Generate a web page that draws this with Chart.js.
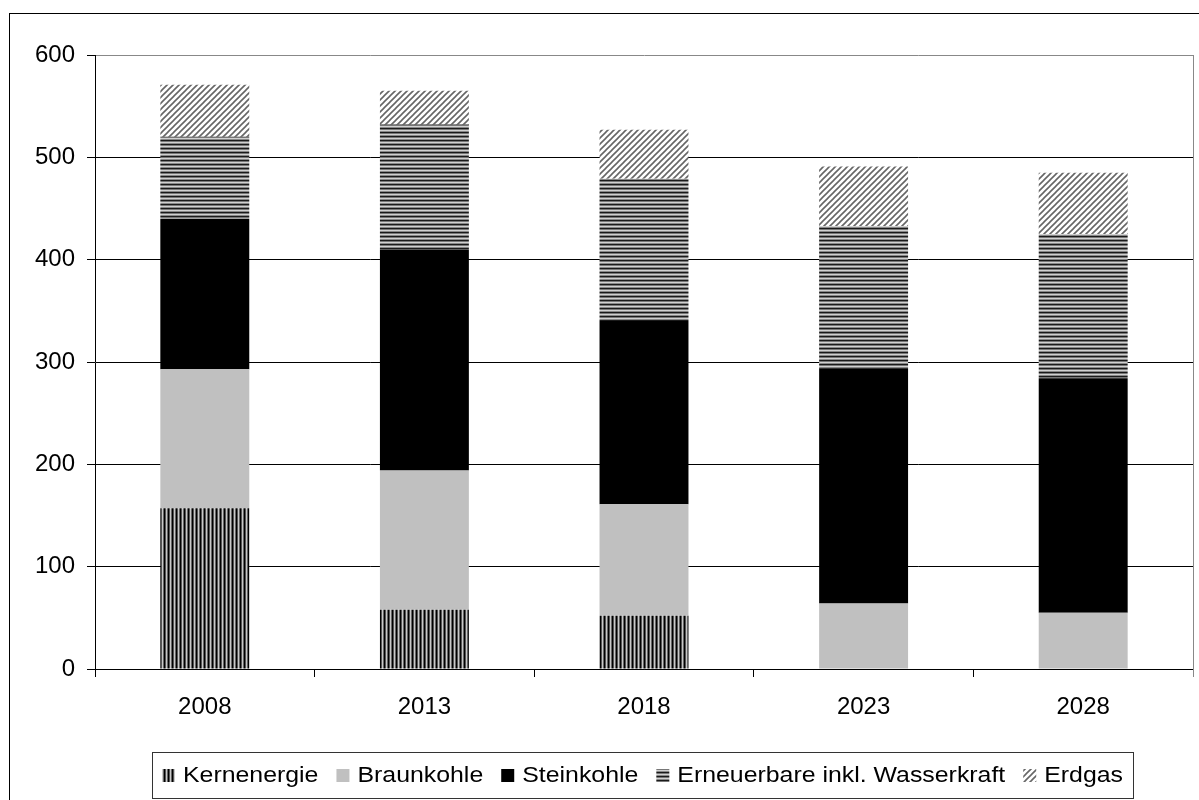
<!DOCTYPE html>
<html>
<head>
<meta charset="utf-8">
<script src="https://cdn.jsdelivr.net/npm/chart.js@4"></script>
<style>
  body { margin: 0; background: #fff; }
  #wrap { width: 1199px; height: 800px; }
</style>
</head>
<body>
<div id="wrap"><canvas id="chart" width="1199" height="800"></canvas></div>
<script>
const years = ['2008', '2013', '2018', '2023', '2028'];
const kernenergie = [157, 58, 52, 0, 0];
const braunkohle = [136, 136, 109, 64, 55];
const steinkohle = [147, 216, 179, 230, 229];
const erneuerbare = [80, 122, 139, 139, 141];
const erdgas = [51, 33, 48, 58, 60];
const seriesNames = ['Kernenergie', 'Braunkohle', 'Steinkohle', 'Erneuerbare inkl. Wasserkraft', 'Erdgas'];
const yTicks = [0, 100, 200, 300, 400, 500, 600];

const FONT = '"Liberation Sans", Arial, sans-serif';

// kleine Muster wie im Excel-Original
function makePattern(w, h, draw) {
    const c = document.createElement('canvas');
    c.width = w; c.height = h;
    const g = c.getContext('2d');
    g.fillStyle = '#fff';
    g.fillRect(0, 0, w, h);
    draw(g);
    return document.getElementById('chart').getContext('2d').createPattern(c, 'repeat');
}

const vertPattern = makePattern(4, 4, g => {
    const cols = ['#000', '#555', '#c8c8c8', '#666'];
    cols.forEach((col, i) => { g.fillStyle = col; g.fillRect(i, 0, 1, 4); });
});
const horizPattern = makePattern(4, 4, g => {
    const rows = ['#1a1a1a', '#777', '#d0d0d0', '#888'];
    rows.forEach((col, i) => { g.fillStyle = col; g.fillRect(0, i, 4, 1); });
});
const diagPattern = makePattern(6, 6, g => {
    g.strokeStyle = '#666';
    g.lineWidth = 1.6;
    g.beginPath();
    g.moveTo(-1, 7); g.lineTo(7, -1);
    g.moveTo(-1, 1); g.lineTo(1, -1);
    g.moveTo(5, 7); g.lineTo(7, 5);
    g.stroke();
});

const fills = [vertPattern, '#c0c0c0', '#000', horizPattern, diagPattern];
const values = [kernenergie, braunkohle, steinkohle, erneuerbare, erdgas];

const framePlugin = {
    id: 'frame',
    beforeDraw(chart) {
        const ctx = chart.ctx;
        ctx.save();
        ctx.strokeStyle = '#000';
        ctx.lineWidth = 1;
        ctx.strokeRect(9.5, 13.5, 1300, 900);
        ctx.restore();
    },
    afterDraw(chart) {
        const ctx = chart.ctx;
        const a = chart.chartArea;
        ctx.save();
        ctx.strokeStyle = '#888';
        ctx.lineWidth = 1;
        ctx.beginPath();
        ctx.moveTo(Math.round(a.right) + 0.5, a.top);
        ctx.lineTo(Math.round(a.right) + 0.5, a.bottom + 8);
        ctx.stroke();

        // Legende mit Rahmen (Text etwas breit gezogen wie im Original)
        const stretch = 1.13;
        ctx.font = '22px ' + FONT;
        ctx.textBaseline = 'middle';
        const box = { left: 152, top: 752, right: 1133, bottom: 798 };
        const sw = 15, gapText = 6;
        const widths = seriesNames.map(n => sw + gapText + ctx.measureText(n).width * stretch);
        const used = widths.reduce((s, w) => s + w, 0);
        const gap = (box.right - box.left - 20 - used) / (seriesNames.length - 1);
        ctx.fillStyle = '#fff';
        ctx.fillRect(box.left, box.top, box.right - box.left, box.bottom - box.top);
        ctx.strokeStyle = '#333';
        ctx.strokeRect(box.left + 0.5, box.top + 0.5, box.right - box.left, box.bottom - box.top);
        const cy = (box.top + box.bottom) / 2;
        let x = box.left + 10;
        seriesNames.forEach((n, i) => {
            ctx.fillStyle = fills[i];
            ctx.fillRect(x, cy - 6, sw - 2, 13);
            ctx.save();
            ctx.translate(x + sw + gapText, cy + 1);
            ctx.scale(stretch, 1);
            ctx.fillStyle = '#000';
            ctx.fillText(n, 0, 0);
            ctx.restore();
            x += widths[i] + gap;
        });
        ctx.restore();
    }
};

new Chart(document.getElementById('chart'), {
    type: 'bar',
    data: {
        labels: years,
        datasets: seriesNames.map((name, i) => ({
            label: name,
            data: values[i],
            backgroundColor: fills[i],
            borderWidth: 0,
            barPercentage: 0.405,
            categoryPercentage: 1
        }))
    },
    options: {
        responsive: false,
        animation: false,
        devicePixelRatio: 1,
        layout: { padding: { left: 0, top: 55, right: 6, bottom: 0 } },
        plugins: {
            legend: { display: false },
            tooltip: { enabled: false }
        },
        scales: {
            x: {
                stacked: true,
                afterFit: s => { s.height = 131; },
                grid: { drawOnChartArea: false, drawTicks: true, tickLength: 8, tickColor: '#000', offset: true },
                border: { color: '#000', width: 1 },
                ticks: { color: '#000', font: { family: FONT, size: 24 }, padding: 16 }
            },
            y: {
                stacked: true,
                min: 0,
                max: 600,
                afterFit: s => { s.width = 95; },
                afterBuildTicks: s => { s.ticks = yTicks.map(v => ({ value: v })); },
                grid: {
                    color: c => (c.tick && c.tick.value === 600 ? '#888' : '#000'),
                    tickColor: '#000',
                    tickLength: 8,
                    lineWidth: 1
                },
                border: { color: '#000', width: 1 },
                ticks: { color: '#000', font: { family: FONT, size: 24 }, padding: 12 }
            }
        }
    },
    plugins: [framePlugin]
});
</script>
</body>
</html>
